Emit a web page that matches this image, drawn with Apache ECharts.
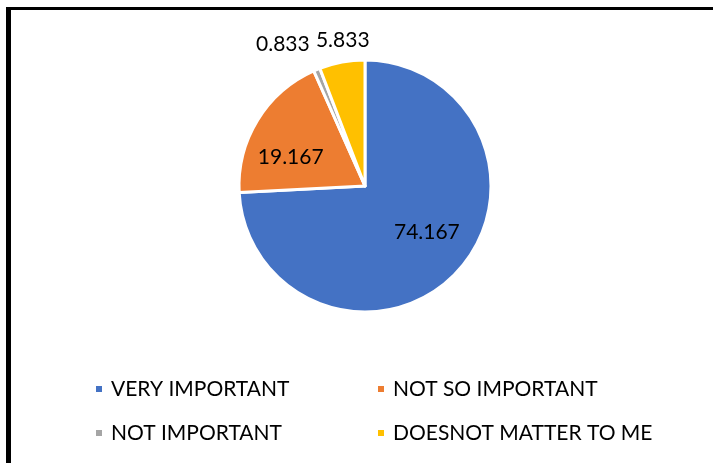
<!DOCTYPE html>
<html>
<head>
<meta charset="utf-8">
<script src="https://cdn.jsdelivr.net/npm/echarts@6/dist/echarts.min.js"></script>
<style>
html,body{margin:0;padding:0;background:#fff;}
#chart{width:713px;height:463px;}
</style>
</head>
<body>
<div id="chart"></div>
<script>
const categories = ['VERY IMPORTANT', 'NOT SO IMPORTANT', 'NOT IMPORTANT', 'DOESNOT MATTER TO ME'];
const values = [74.167, 19.167, 0.833, 5.833];
const colors = ['#4472C4', '#ED7D31', '#A5A5A5', '#FFC000'];
const labelPlacement = ['inside', 'inside', 'outside', 'outside'];
const labelShift = [[14, 1], [-18, 6], [1, -18], [34, -14]];

const chart = echarts.init(document.getElementById('chart'), null, {renderer: 'canvas'});
const font = 'Lato, "Open Sans", sans-serif';

const data = categories.map((name, i) => ({
  name: name,
  value: values[i],
  itemStyle: {color: colors[i]},
  label: {position: labelPlacement[i]}
}));

const legendText = {fontFamily: font, fontSize: 21, color: '#000', lineHeight: 24, padding: [0, 0, 0, 3]};

chart.setOption({
  animation: false,
  backgroundColor: '#fff',
  graphic: [
    {type: 'rect', shape: {x: 6, y: 7, width: 720, height: 3}, style: {fill: '#000'}, silent: true},
    {type: 'rect', shape: {x: 6, y: 7, width: 5, height: 470}, style: {fill: '#000'}, silent: true}
  ],
  legend: [
    {
      data: [categories[0], categories[2]],
      orient: 'vertical',
      left: 94, top: 377, padding: 0,
      icon: 'rect', itemWidth: 8, itemHeight: 8,
      itemGap: 20,
      textStyle: legendText,
      selectedMode: false
    },
    {
      data: [categories[1], categories[3]],
      orient: 'vertical',
      left: 376, top: 377, padding: 0,
      icon: 'rect', itemWidth: 8, itemHeight: 8,
      itemGap: 20,
      textStyle: legendText,
      selectedMode: false
    }
  ],
  series: [{
    type: 'pie',
    center: [365, 186],
    radius: 126,
    startAngle: 90,
    clockwise: true,
    avoidLabelOverlap: false,
    itemStyle: {borderColor: '#fff', borderWidth: 3},
    label: {
      show: true,
      formatter: '{c}',
      fontFamily: font,
      fontSize: 21,
      color: '#000'
    },
    labelLine: {show: false, length: 8, length2: 0},
    labelLayout: function (params) {
      const s = labelShift[params.dataIndex];
      return {dx: s[0], dy: s[1], hideOverlap: false, moveOverlap: null};
    },
    emphasis: {disabled: true},
    data: data
  }]
});
</script>
</body>
</html>
